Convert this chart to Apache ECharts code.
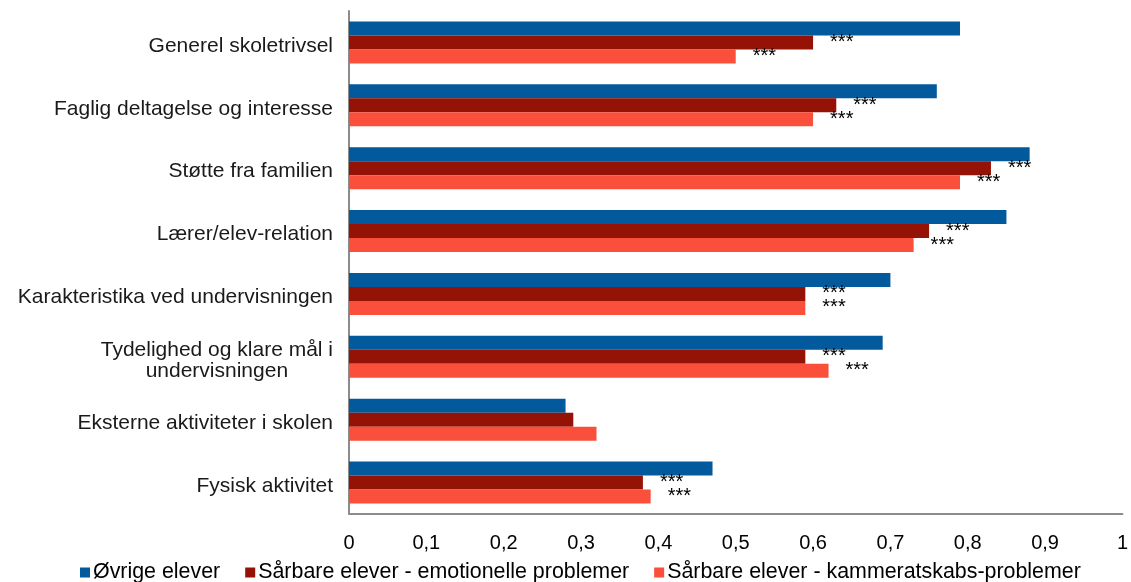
<!DOCTYPE html>
<html><head><meta charset="utf-8">
<script src="https://cdn.jsdelivr.net/npm/echarts@6/dist/echarts.min.js"></script>
<style>html,body{margin:0;padding:0;background:#fff}#c{width:1131px;height:582px}</style>
</head><body><div id="c"></div>
<script>
const categories = ["Generel skoletrivsel","Faglig deltagelse og interesse","Støtte fra familien","Lærer/elev-relation","Karakteristika ved undervisningen","Tydelighed og klare mål i\nundervisningen","Eksterne aktiviteter i skolen","Fysisk aktivitet"];
const seriesNames = ["Øvrige elever","Sårbare elever - emotionelle problemer","Sårbare elever - kammeratskabs-problemer"];
const ovrige = [0.79,0.76,0.88,0.85,0.70,0.69,0.28,0.47];
const emotionelle = [0.60,0.63,0.83,0.75,0.59,0.59,0.29,0.38];
const kammerat = [0.50,0.60,0.79,0.73,0.59,0.62,0.32,0.39];
const sigEmotionelle = ["***","***","***","***","***","***","","***"];
const sigKammerat = ["***","***","***","***","***","***","","***"];
const colors = ["#02599C","#951206","#F94F3B"];
const ticks = ["0","0,1","0,2","0,3","0,4","0,5","0,6","0,7","0,8","0,9","1"];

const FONT = "Liberation Sans";
function mk(name, data, color, sig){
  return {
    name, type:'bar', data: data.map((v,i)=>({value:v, sig: sig? sig[i] : ''})),
    barWidth: 14, barGap: '0%', barCategoryGap: '33%',
    itemStyle:{color},
    label: sig ? {show:true, position:'right', distance:17, offset:[0,0],
      formatter: p => p.data.sig, color:'#000', fontFamily:FONT, fontSize:20} : {show:false}
  };
}
const chart = echarts.init(document.getElementById('c'));
chart.setOption({
  animation:false,
  textStyle:{fontFamily:FONT},
  grid:{left:349, right:4, top:11, bottom:68},
  legend:{bottom:-6, left:75, itemWidth:10, itemHeight:10, itemGap:25, icon:'rect',
    textStyle:{fontFamily:FONT, fontSize:21.4, color:'#000', padding:[0,0,0,-2]}, data:seriesNames},
  xAxis:{type:'value', min:0, max:1, interval:0.1,
    axisLine:{show:true, lineStyle:{color:'#8c8c8c', width:2}},
    axisTick:{show:false}, splitLine:{show:false},
    axisLabel:{margin:19, fontFamily:FONT, fontSize:20, color:'#000',
      formatter:(v)=> ticks[Math.round(v*10)]}},
  yAxis:{type:'category', data:categories, inverse:true,
    axisLine:{show:true, lineStyle:{color:'#8c8c8c', width:2}},
    axisTick:{show:false},
    axisLabel:{margin:16, fontFamily:FONT, fontSize:21, color:'#1a1a1a', lineHeight:21,
      padding:[7,0,0,0],
      formatter: v => v.split('\n').map(s=>'{c|'+s+'}').join('\n'),
      rich:{c:{align:'center', fontFamily:FONT, fontSize:21, color:'#1a1a1a', lineHeight:21}}}},
  series:[
    mk(seriesNames[0], ovrige, colors[0], null),
    mk(seriesNames[1], emotionelle, colors[1], sigEmotionelle),
    mk(seriesNames[2], kammerat, colors[2], sigKammerat)
  ]
});
</script></body></html>
